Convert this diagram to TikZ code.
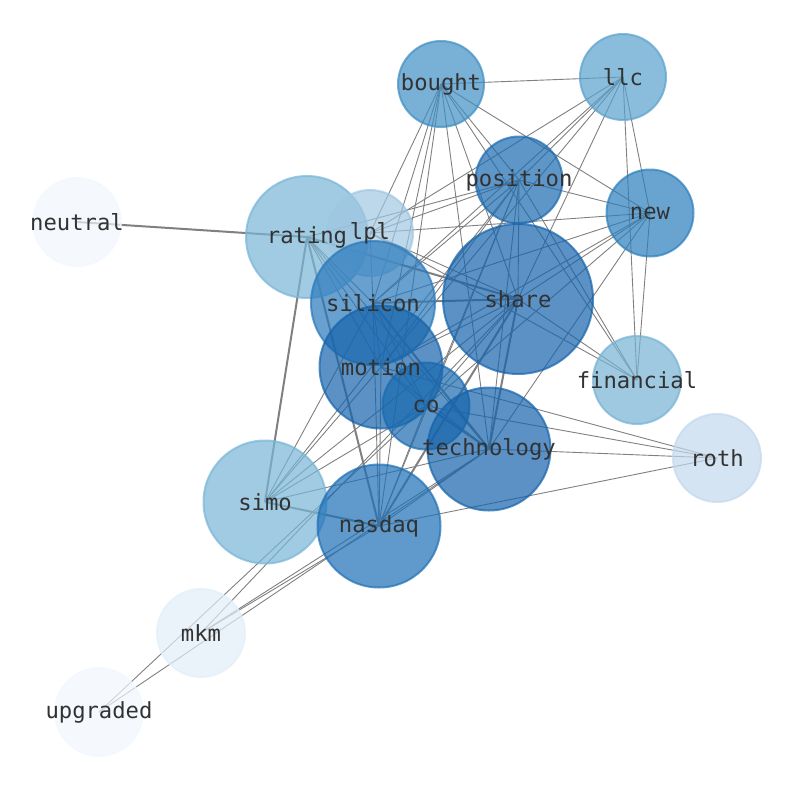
\documentclass[tikz,border=0pt]{standalone}
\usepackage{fontspec}
\setmonofont{DejaVu Sans Mono}
\definecolor{cshare}{RGB}{21,99,171}
\definecolor{ctech}{RGB}{21,99,171}
\definecolor{cmotion}{RGB}{21,99,171}
\definecolor{cnasdaq}{RGB}{29,111,182}
\definecolor{csilicon}{RGB}{40,120,188}
\definecolor{cposition}{RGB}{26,106,176}
\definecolor{cco}{RGB}{26,106,176}
\definecolor{cnew}{RGB}{42,126,188}
\definecolor{cbought}{RGB}{62,142,196}
\definecolor{cllc}{RGB}{89,161,205}
\definecolor{crating}{RGB}{119,181,215}
\definecolor{csimo}{RGB}{119,181,215}
\definecolor{cfin}{RGB}{117,178,212}
\definecolor{clpl}{RGB}{159,199,225}
\definecolor{croth}{RGB}{195,216,236}
\definecolor{cmkm}{RGB}{226,238,248}
\definecolor{cneutral}{RGB}{241,247,254}
\definecolor{cup}{RGB}{241,247,254}
\definecolor{edgegray}{RGB}{128,128,128}
\definecolor{labelc}{RGB}{50,50,50}
\begin{document}
\begin{tikzpicture}[x=1pt,y=-1pt,
  ed/.style={draw=edgegray,line width=0.9pt},
  edk/.style={draw=edgegray,line width=2pt},
  nd/.style n args={2}{circle,minimum size=#1,inner sep=0pt,fill=#2,draw=#2,fill opacity=0.7,draw opacity=0.7,line width=2pt},
  lbl/.style={font=\ttfamily\fontsize{22.2}{26}\selectfont,text=labelc,inner sep=0pt}]
\useasboundingbox (0,0) rectangle (794,790);
% centres
\coordinate (bought) at (441,84);
\coordinate (llc) at (623,77);
\coordinate (position) at (519,180);
\coordinate (new) at (650,213);
\coordinate (neutral) at (77,222);
\coordinate (rating) at (307,237);
\coordinate (lpl) at (370,233);
\coordinate (silicon) at (373,303);
\coordinate (share) at (518,299);
\coordinate (motion) at (381,367);
\coordinate (financial) at (637,380);
\coordinate (co) at (426,406);
\coordinate (technology) at (489,449);
\coordinate (roth) at (717,458);
\coordinate (simo) at (265,502);
\coordinate (nasdaq) at (379,526);
\coordinate (mkm) at (201,633);
\coordinate (upgraded) at (99,712);
% thick edges
\draw[edk] (neutral) -- (rating);
\draw[edk] (rating) -- (simo);
\draw[edk] (simo) -- (nasdaq);
\draw[edk] (rating) -- (share);
\draw[edk] (silicon) -- (share);
\draw[edk] (rating) -- (nasdaq);
\draw[edk] (share) -- (nasdaq);
\draw[edk] (share) -- (technology);
\draw[edk] (silicon) -- (technology);
\draw[edk] (co) -- (technology);
% thin edges
\foreach \a/\b in {bought/llc,bought/new,bought/position,bought/lpl,bought/silicon,bought/motion,bought/nasdaq,bought/share,bought/technology,bought/financial,
 llc/new,llc/financial,llc/share,llc/lpl,llc/position,llc/silicon,llc/motion,
 new/position,new/lpl,new/silicon,new/share,new/motion,new/co,new/technology,new/financial,
 position/lpl,position/rating,position/silicon,position/share,position/motion,position/co,position/technology,position/nasdaq,position/simo,position/financial,
 financial/share,financial/lpl,
 rating/silicon,rating/motion,rating/co,rating/technology,
 lpl/share,lpl/silicon,
 silicon/motion,silicon/co,silicon/nasdaq,silicon/simo,
 share/motion,share/co,share/simo,share/mkm,
 motion/co,motion/nasdaq,motion/simo,motion/roth,motion/technology,
 co/nasdaq,co/simo,co/roth,co/upgraded,
 technology/nasdaq,technology/simo,technology/roth,technology/mkm,technology/upgraded,
 roth/nasdaq,nasdaq/mkm}
  \draw[ed] (\a) -- (\b);
% node discs
\node[nd={88}{cneutral}] (neutral-c) at (neutral) {};
\node[nd={88}{cup}] (upgraded-c) at (upgraded) {};
\node[nd={88}{cmkm}] (mkm-c) at (mkm) {};
\node[nd={88}{croth}] (roth-c) at (roth) {};
\node[nd={86}{cbought}] (bought-c) at (bought) {};
\node[nd={86}{cllc}] (llc-c) at (llc) {};
\node[nd={87}{cnew}] (new-c) at (new) {};
\node[nd={87}{cposition}] (position-c) at (position) {};
\node[nd={88}{cfin}] (financial-c) at (financial) {};
\node[nd={122}{crating}] (rating-c) at (rating) {};
\node[nd={86}{clpl}] (lpl-c) at (lpl) {};
\node[nd={124}{csilicon}] (silicon-c) at (silicon) {};
\node[nd={150}{cshare}] (share-c) at (share) {};
\node[nd={123}{cmotion}] (motion-c) at (motion) {};
\node[nd={87}{cco}] (co-c) at (co) {};
\node[nd={123}{ctech}] (technology-c) at (technology) {};
\node[nd={123}{csimo}] (simo-c) at (simo) {};
\node[nd={123}{cnasdaq}] (nasdaq-c) at (nasdaq) {};
% labels
\foreach \n in {bought,llc,position,new,neutral,rating,lpl,silicon,share,motion,financial,co,technology,roth,simo,nasdaq,mkm,upgraded}
  \node[lbl] (\n-l) at (\n) {\n};
\end{tikzpicture}
\end{document}
